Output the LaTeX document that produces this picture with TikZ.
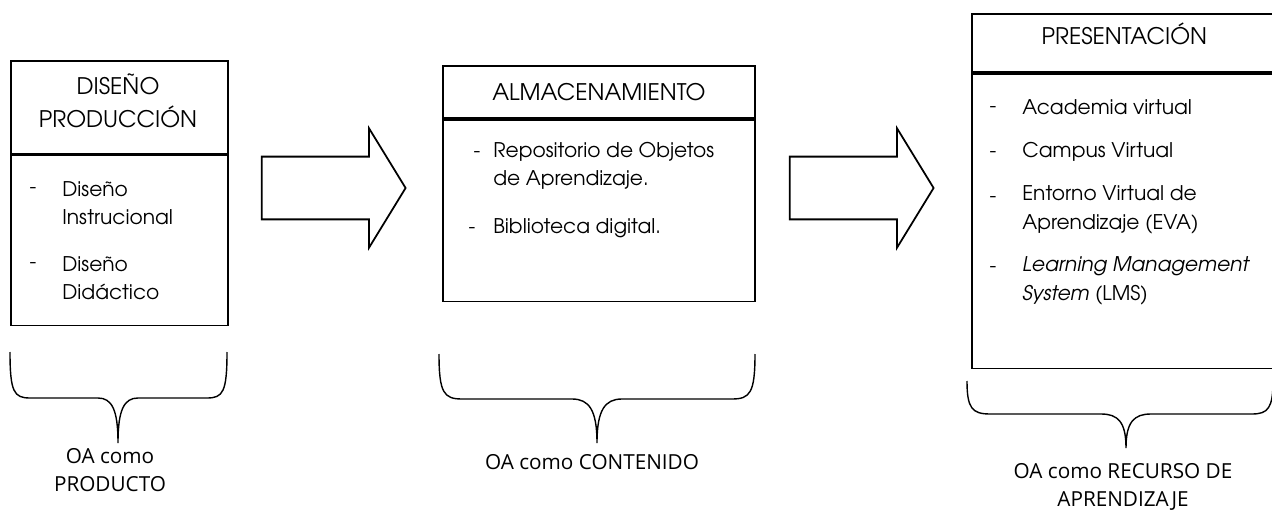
\documentclass[tikz,border=0pt]{standalone}
\usepackage{fontspec}
\setmainfont{texgyreadventor}[Extension=.otf, UprightFont=*-regular, ItalicFont=*-italic, BoldFont=*-bold, BoldItalicFont=*-bolditalic]
\newfontfamily\etiq{Open Sans}
\usetikzlibrary{shapes.arrows}

\tikzset{
  caja/.style={draw, line width=1pt, inner sep=0pt, anchor=north west},
  titulo/.style={align=center, font=\fontsize{13}{18.5}\selectfont},
  elem/.style={anchor=west, align=left, inner sep=0pt, font=\fontsize{11.5}{16.2}\selectfont},
  guion/.style={inner sep=0pt, font=\fontsize{11.5}{16.2}\selectfont},
  flecha/.style={draw, line width=1pt, single arrow, inner xsep=0pt, inner ysep=0.61cm,
    minimum height=2.88cm, minimum width=2.36cm,
    single arrow head extend=0.57cm, single arrow tip angle=117},
  llave/.style={line width=0.8pt},
  etiqueta/.style={align=center, font=\etiq\fontsize{11.8}{16}\selectfont}
}

\begin{document}
\begin{tikzpicture}[x=0.02cm, y=-0.02cm]
      \useasboundingbox (0,0) rectangle (1272,510);

      % cajas
      \node[caja, minimum width=4.34cm, minimum height=1.86cm] (dis) at (10,60) {};
      \node[titulo, inner sep=0pt] (disT) at (118,101) {DISEÑO\\PRODUCCIÓN};
      \node[caja, minimum width=4.34cm, minimum height=3.4cm] (disC) at (dis.south west) {};
      \node[caja, titulo, minimum width=6.24cm, minimum height=1.04cm] (alm) at (442,65) {ALMACENAMIENTO};
      \node[caja, minimum width=6.24cm, minimum height=3.64cm] (almC) at (alm.south west) {};
      \node[caja, titulo, text depth=10.2pt, minimum width=6.1cm, minimum height=1.16cm] (pre) at (971,13) {PRESENTACIÓN};
      \node[caja, minimum width=6.1cm, minimum height=5.9cm] (preC) at (pre.south west) {};

      % elementos
      \node[guion] (g1a) at (33,191) {-};
      \node[guion] (g1b) at (33,266) {-};
      \node[elem] (d1) at (62,203) {Diseño\\Instrucional};
      \node[elem] (d2) at (62,278) {Diseño\\Didáctico};

      \node[guion] (g2a) at (477,155) {-};
      \node[guion] (g2b) at (472,231) {-};
      \node[elem] (a1) at (493,166) {Repositorio de Objetos\\de Aprendizaje.};
      \node[elem] (a2) at (493,228) {Biblioteca digital.};

      \foreach \y in {110,155,200,270}
        \node[guion] (g3-\y) at (993,\y) {-};
      \node[elem] (p1) at (1022,107) {Academia virtual};
      \node[elem] (p2) at (1022,152) {Campus Virtual};
      \node[elem] (p3) at (1022,210) {Entorno Virtual de\\Aprendizaje (EVA)};
      \node[elem] (p4) at (1022,281) {\textit{Learning Management}\\\textit{System} (LMS)};

      % flechas
      \node[flecha] (f1) at (324,188) {};
      \node[flecha] (f2) at (852,188) {};

      % llaves
      \draw[llave] (10,352) .. controls (10,392) and (14,398) .. (30,398) -- (98,398)
        .. controls (112,398) and (118,410) .. (118,443)
        .. controls (118,410) and (124,398) .. (138,398) -- (207,398)
        .. controls (223,398) and (227,392) .. (227,352);
      \draw[llave] (439,354) .. controls (439,393) and (444,399) .. (462,399) -- (572,399)
        .. controls (589,399) and (597,410) .. (597,443)
        .. controls (597,410) and (605,399) .. (622,399) -- (732,399)
        .. controls (750,399) and (755,393) .. (755,354);
      \draw[llave] (967,381) .. controls (967,408) and (972,414) .. (990,414) -- (1101,414)
        .. controls (1118,414) and (1126,422) .. (1126,448)
        .. controls (1126,422) and (1134,414) .. (1151,414) -- (1252,414)
        .. controls (1268,414) and (1273,408) .. (1273,381);

      % etiquetas
      \node[etiqueta] (e1) at (110,470) {OA como\\PRODUCTO};
      \node[etiqueta] (e2) at (592,462) {OA como CONTENIDO};
      \node[etiqueta] (e3) at (1123,487) {OA como RECURSO DE\\APRENDIZAJE};
\end{tikzpicture}
\end{document}
